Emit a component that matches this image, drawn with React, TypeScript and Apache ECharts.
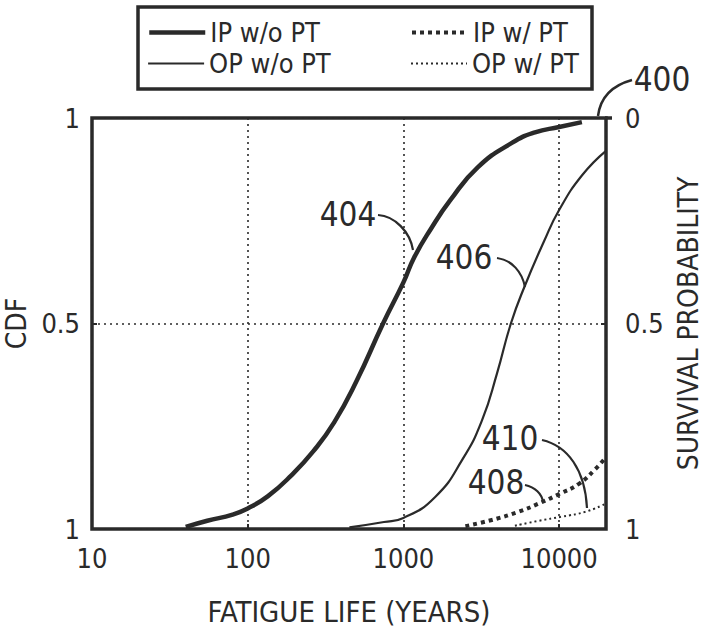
import React, { useEffect, useRef } from "react";
import * as echarts from "echarts";

// ---- data ----
const ipNoPtLife = [40, 55, 80, 100, 135, 190, 265, 360, 500, 740, 1000, 1170, 1500, 2000, 3000, 5000, 7000, 10000, 14000];
const ipNoPtCdf = [0.005, 0.02, 0.035, 0.05, 0.08, 0.13, 0.19, 0.26, 0.36, 0.5, 0.6, 0.66, 0.73, 0.8, 0.88, 0.94, 0.965, 0.978, 0.99];

const opNoPtLife = [450, 750, 1000, 1600, 2400, 3200, 4000, 4900, 6000, 8000, 10000, 14000, 20000];
const opNoPtCdf = [0.004, 0.017, 0.027, 0.078, 0.17, 0.265, 0.38, 0.5, 0.59, 0.7, 0.776, 0.86, 0.92];

const ipPtLife = [2500, 3700, 5500, 7400, 10000, 13400, 17000, 20000];
const ipPtCdf = [0.007, 0.022, 0.042, 0.062, 0.085, 0.11, 0.145, 0.175];

const opPtLife = [5200, 7400, 10400, 14800, 20000];
const opPtCdf = [0.008, 0.02, 0.03, 0.042, 0.062];

const seriesNames = ["IP w/o PT", "IP w/ PT", "OP w/o PT", "OP w/ PT"];
const xTickValues = [10, 100, 1000, 10000];
const leftTickLabels = ["1", "0.5", "1"];
const rightTickLabels = ["1", "0.5", "0"];

const INK = "#2a2a2a";
const NARROW = "'DejaVu Sans Condensed', 'Liberation Sans Narrow', sans-serif";

const pairs = (xs: number[], ys: number[]) => xs.map((x, i) => [x, ys[i]]);

// line styles per series name
const lineStyles: Record<string, { width: number; type: any }> = {
  "IP w/o PT": { width: 4.5, type: "solid" },
  "IP w/ PT": { width: 4, type: [4, 4] },
  "OP w/o PT": { width: 2.2, type: "solid" },
  "OP w/ PT": { width: 2, type: [2, 3] },
};

// legend placement: [left, top] for each series name
const legendSlots: [number, number][] = [
  [147, 19],
  [410, 19],
  [147, 50],
  [410, 50],
];

export default function App() {
  const ref = useRef<HTMLDivElement>(null);
  useEffect(() => {
    if (!ref.current) return;
    const chart = echarts.init(ref.current, null, { renderer: "svg" });
    const labelStyle = { color: INK, fontFamily: NARROW, fontSize: 27 };
    const ann = (text: string, x: number, y: number) => ({
      type: "text",
      x,
      y,
      style: { text, font: `33px ${NARROW}`, fill: INK, align: "center", verticalAlign: "middle" },
      z: 10,
    });
    const mkSeries = (name: string, xs: number[], ys: number[]) => ({
      name,
      type: "line",
      smooth: true,
      symbol: "none",
      data: pairs(xs, ys),
      lineStyle: { color: INK, ...lineStyles[name] },
      itemStyle: { color: INK },
      z: 5,
    });
    chart.setOption({
      animation: false,
      backgroundColor: "#ffffff",
      grid: {
        left: 92,
        right: 104,
        top: 118,
        bottom: 106,
        show: true,
        borderColor: INK,
        borderWidth: 3.5,
        backgroundColor: "transparent",
        containLabel: false,
        outerBoundsMode: "none",
      },
      legend: seriesNames.map((n, i) => ({
        data: [n],
        left: legendSlots[i][0],
        top: legendSlots[i][1],
        padding: 0,
        itemWidth: 56,
        itemHeight: 14,
        selectedMode: false,
        itemStyle: { opacity: 0 },
        lineStyle: { color: INK, ...lineStyles[n] },
        textStyle: { ...labelStyle, fontSize: 27 },
      })),
      xAxis: {
        type: "log",
        logBase: 10,
        min: 10,
        max: 20000,
        name: "FATIGUE LIFE (YEARS)",
        nameLocation: "middle",
        nameGap: 68,
        nameTextStyle: { ...labelStyle, fontSize: 29 },
        axisLine: { show: false },
        axisTick: { show: true, inside: true, length: 5, lineStyle: { color: INK, width: 2 } },
        axisLabel: {
          ...labelStyle,
          margin: 16,
          formatter: (v: number) => (xTickValues.some((t) => Math.abs(t - v) < 1e-6) ? String(v) : ""),
        },
        splitLine: { show: true, lineStyle: { color: INK, width: 1.6, type: [2, 4] } },
      },
      yAxis: [
        {
          type: "value",
          min: 0,
          max: 1,
          interval: 0.5,
          position: "left",
          name: "CDF",
          nameLocation: "middle",
          nameRotate: 90,
          nameGap: 48,
          nameTextStyle: { ...labelStyle, fontSize: 28 },
          axisLine: { show: false },
          axisTick: { show: true, inside: true, length: 5, lineStyle: { color: INK, width: 2 } },
          axisLabel: {
            ...labelStyle,
            margin: 12,
            formatter: (v: number) => leftTickLabels[Math.round(v / 0.5)] ?? "",
          },
          splitLine: { show: true, lineStyle: { color: INK, width: 1.6, type: [2, 4] } },
        },
        {
          type: "value",
          min: 0,
          max: 1,
          interval: 0.5,
          position: "right",
          name: "SURVIVAL PROBABILITY",
          nameLocation: "middle",
          nameRotate: 90,
          nameGap: 67,
          nameTextStyle: { ...labelStyle, fontSize: 28 },
          axisLine: { show: false },
          axisTick: { show: true, inside: true, length: 5, lineStyle: { color: INK, width: 2 } },
          axisLabel: {
            ...labelStyle,
            margin: 19,
            formatter: (v: number) => rightTickLabels[Math.round(v / 0.5)] ?? "",
          },
          splitLine: { show: false },
        },
      ],
      series: [
        mkSeries("IP w/o PT", ipNoPtLife, ipNoPtCdf),
        mkSeries("IP w/ PT", ipPtLife, ipPtCdf),
        mkSeries("OP w/o PT", opNoPtLife, opNoPtCdf),
        mkSeries("OP w/ PT", opPtLife, opPtCdf),
      ],
      graphic: [
        { type: "rect", shape: { x: 138, y: 7, width: 454, height: 82 }, style: { fill: "none", stroke: INK, lineWidth: 3.5 }, z: 10 },
        { type: "line", shape: { x1: 605, y1: 118, x2: 612, y2: 118 }, style: { stroke: INK, lineWidth: 3.5 }, z: 10 },
        ann("400", 662, 79),
        { type: "bezierCurve", shape: { x1: 632, y1: 80, cpx1: 610, cpy1: 86, cpx2: 600, cpy2: 100, x2: 598, y2: 116 }, style: { stroke: INK, lineWidth: 2.5, fill: "none" }, z: 10 },
        ann("404", 348, 214),
        { type: "bezierCurve", shape: { x1: 378, y1: 215, cpx1: 395, cpy1: 216, cpx2: 410, cpy2: 232, x2: 413, y2: 250 }, style: { stroke: INK, lineWidth: 2.2, fill: "none" }, z: 10 },
        ann("406", 464, 257),
        { type: "bezierCurve", shape: { x1: 497, y1: 258, cpx1: 512, cpy1: 260, cpx2: 522, cpy2: 272, x2: 525, y2: 287 }, style: { stroke: INK, lineWidth: 2.2, fill: "none" }, z: 10 },
        ann("410", 510, 438),
        { type: "bezierCurve", shape: { x1: 542, y1: 440, cpx1: 568, cpy1: 446, cpx2: 585, cpy2: 470, x2: 587, y2: 508 }, style: { stroke: INK, lineWidth: 2.2, fill: "none" }, z: 10 },
        ann("408", 496, 482),
        { type: "bezierCurve", shape: { x1: 525, y1: 485, cpx1: 535, cpy1: 487, cpx2: 542, cpy2: 494, x2: 543, y2: 502 }, style: { stroke: INK, lineWidth: 2.2, fill: "none" }, z: 10 },
      ],
    });
    return () => chart.dispose();
  }, []);
  return (
    <div
      ref={ref}
      style={{ position: "fixed", left: 0, top: 0, width: 710, height: 635, background: "#fff" }}
    />
  );
}
